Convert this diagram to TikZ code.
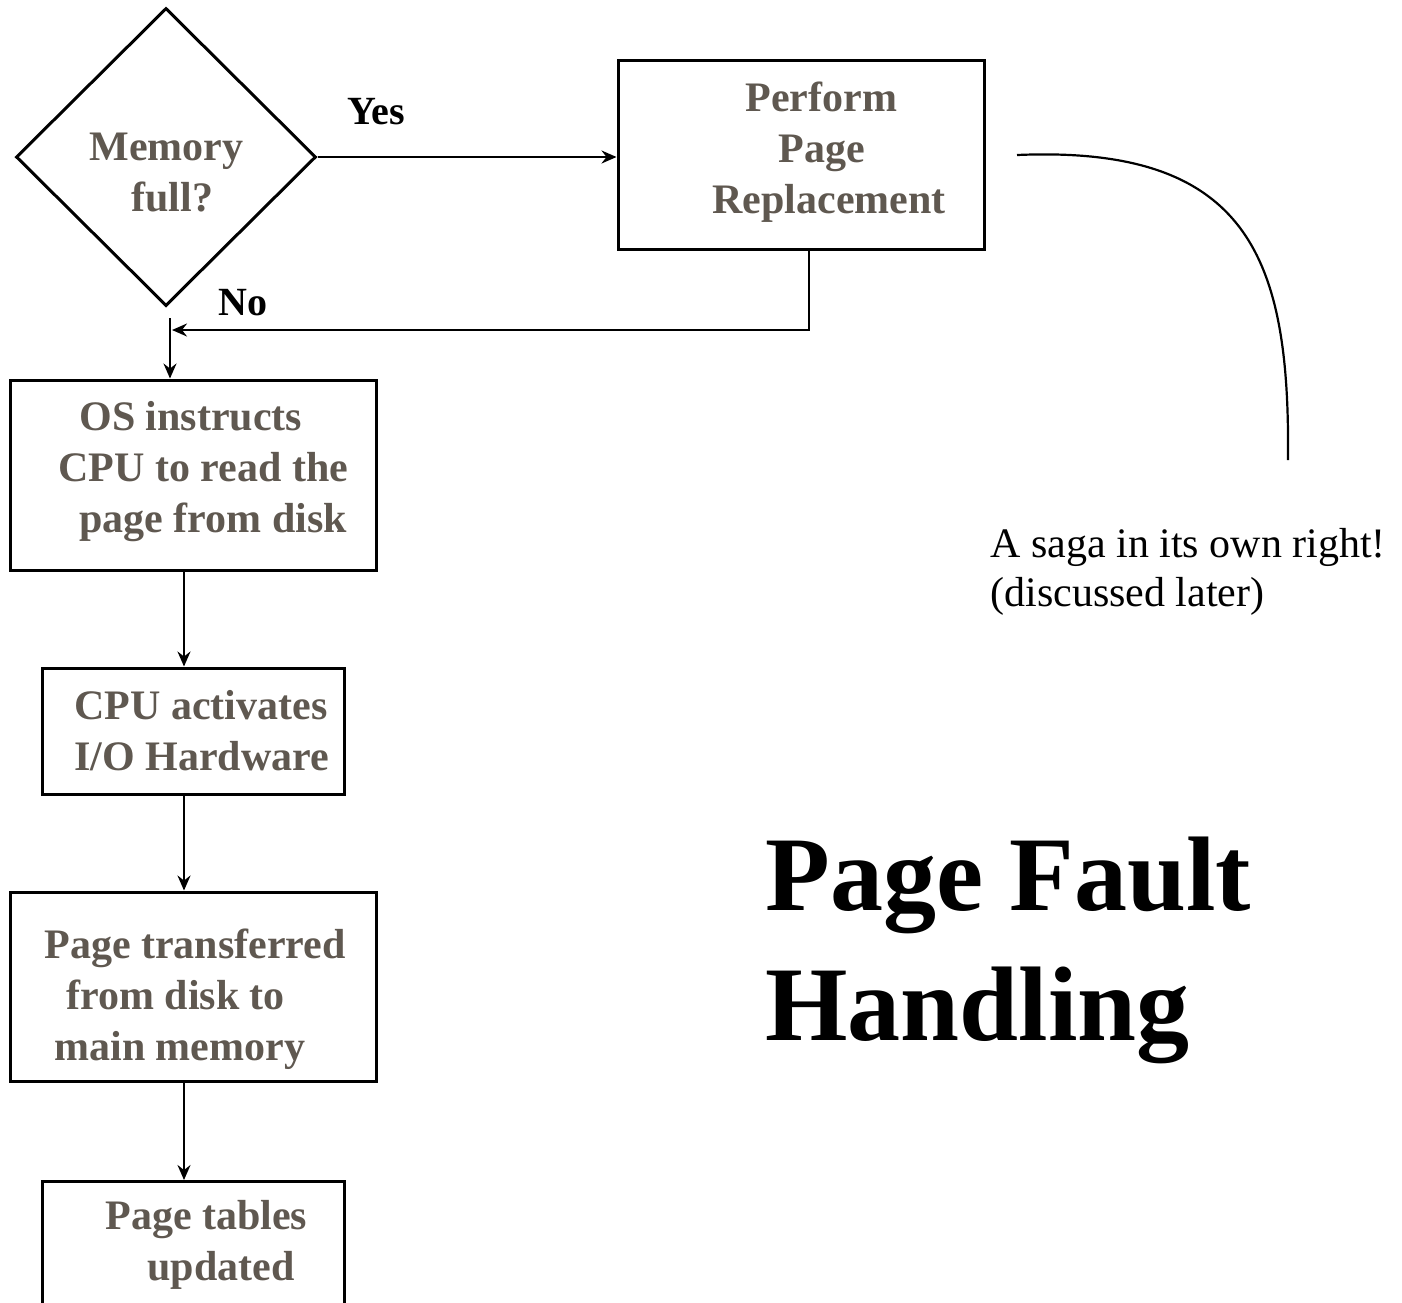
\documentclass[tikz,border=0pt]{standalone}
\usepackage{fontspec}
\setmainfont{Liberation Serif}
\usetikzlibrary{shapes.geometric,arrows.meta,calc}
\definecolor{boxtext}{RGB}{95,88,80}
\tikzset{
  boxshape/.style={draw, line width=1.5pt, rectangle, inner sep=0pt},
  dshape/.style={draw, line width=1.5pt, diamond, inner sep=0pt},
  btext/.style={text=boxtext, font=\bfseries\fontsize{21pt}{25.5pt}\selectfont, align=left, inner sep=0pt, anchor=west},
  lbl/.style={text=black, font=\bfseries\fontsize{20pt}{24pt}\selectfont, inner sep=0pt},
  arrowtip/.tip={Stealth[length=7.5pt,width=6.5pt,inset=2.5pt]},
  conn/.style={line width=1.1pt, -arrowtip},
  plain/.style={line width=1.1pt}
}
\begin{document}
\begin{tikzpicture}[x=0.5pt,y=-0.5pt]
\useasboundingbox (0,0) rectangle (1402,1302);
% shapes
\node[dshape, minimum width=150pt, minimum height=149pt] (dia) at (166,157) {};
\node[boxshape, minimum width=183pt, minimum height=94.5pt] (prb) at (801,154.5) {};
\node[boxshape, minimum width=183pt, minimum height=95pt] (os) at (193,475) {};
\node[boxshape, minimum width=151pt, minimum height=63pt] (cpu) at (193,731) {};
\node[boxshape, minimum width=183pt, minimum height=94.5pt] (pt) at (193,986.5) {};
\node[boxshape, minimum width=151pt, minimum height=80pt, anchor=north] (tab) at (193,1180) {};
% texts
\node[btext] (memt) at (89,173) {Memory\\\hspace*{21pt}full?};
\node[btext] (prbt) at (712,152) {\hspace*{16.5pt}Perform\\\hspace*{33pt}Page\\Replacement};
\node[btext] (ost) at (58,472) {\hspace*{10.5pt}OS instructs\\CPU to read the\\\hspace*{10.5pt}page from disk};
\node[btext] (cput) at (74,731) {CPU activates\\I/O Hardware};
\node[btext] (ptt) at (44,999) {Page transferred\\\hspace*{11pt}from disk to\\\hspace*{5pt}main memory};
\node[btext] (tabt) at (105,1245) {Page tables\\\hspace*{21pt}updated};
\node[lbl] (yes) at (376,112) {Yes};
\node[lbl] (no) at (243,303) {No};
\node[inner sep=0pt, anchor=west, align=left, font=\fontsize{21pt}{24.5pt}\selectfont] (saga) at (990,572) {A saga in its own right!\\(discussed later)};
\node[inner sep=0pt, anchor=west, align=left, font=\bfseries\fontsize{53pt}{65pt}\selectfont] (title) at (765,950) {Page Fault\\Handling};
% connectors
\coordinate (nostart) at (170,318);
\coordinate (join) at (172,330);
\coordinate (cstart) at (1017,155);
\coordinate (cend) at (1288,460);
\draw[conn] (dia.east) -- (dia.east -| prb.west);
\draw[conn] ([xshift=4pt]prb.south) |- (join);
\draw[conn] (nostart) -- (nostart |- os.north);
\draw[conn] ([xshift=-4.5pt]os.south) -- ([xshift=-4.5pt]cpu.north);
\draw[conn] ([xshift=-4.5pt]cpu.south) -- ([xshift=-4.5pt]pt.north);
\draw[conn] ([xshift=-4.5pt]pt.south) -- ([xshift=-4.5pt]tab.north);
\draw[plain] (cstart) .. controls (1250,145) and (1290,260) .. (cend);
\end{tikzpicture}
\end{document}
